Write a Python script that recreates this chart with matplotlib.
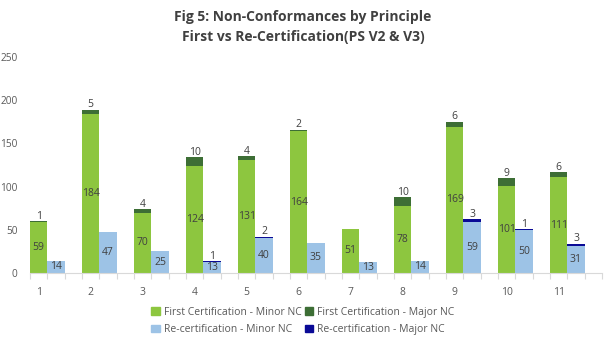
import matplotlib
matplotlib.use("Agg")
import matplotlib.pyplot as plt
from matplotlib.patches import Patch
import numpy as np

categories = ["1", "2", "3", "4", "5", "6", "7", "8", "9", "10", "11"]
first_minor = [59, 184, 70, 124, 131, 164, 51, 78, 169, 101, 111]
first_major = [1, 5, 4, 10, 4, 2, 0, 10, 6, 9, 6]
re_minor = [14, 47, 25, 13, 40, 35, 13, 14, 59, 50, 31]
re_major = [0, 0, 0, 1, 2, 0, 0, 0, 3, 1, 3]
y_ticks = [0, 50, 100, 150, 200, 250]

C_FMIN = "#8dc63f"
C_FMAJ = "#3d6e35"
C_RMIN = "#9dc3e6"
C_RMAJ = "#0a0a96"
TXT = "#404040"
AX = "#595959"

plt.rcParams['font.family'] = ['Open Sans', 'DejaVu Sans']

fig = plt.figure(figsize=(6.06, 3.44), dpi=100)
W, H = 606, 344
left, right, top, bottom = 30, 602, 57, 273
ax = fig.add_axes([left / W, 1 - bottom / H, (right - left) / W, (bottom - top) / H])

n = len(categories)
x = np.arange(n)
bw = 1 / 3
xg = x + bw / 2
xb = x + bw * 1.5

ax.bar(xg, first_minor, width=bw, color=C_FMIN, edgecolor="none")
ax.bar(xg, first_major, width=bw, bottom=first_minor, color=C_FMAJ, edgecolor="none")
ax.bar(xb, re_minor, width=bw, color=C_RMIN, edgecolor="none")
ax.bar(xb, re_major, width=bw, bottom=re_minor, color=C_RMAJ, edgecolor="none")

fs = 7.5
for i in range(n):
    ax.text(xg[i], first_minor[i] / 2, str(first_minor[i]), ha="center", va="center",
            fontsize=fs, color=TXT)
    ax.text(xb[i], re_minor[i] / 2, str(re_minor[i]), ha="center", va="center",
            fontsize=fs, color=TXT)
    if first_major[i] > 0:
        ax.annotate(str(first_major[i]), (xg[i], first_minor[i] + first_major[i]),
                    xytext=(0, 3.5), textcoords="offset points", ha="center", va="center",
                    fontsize=fs, color=TXT)
    if re_major[i] > 0:
        ax.annotate(str(re_major[i]), (xb[i], re_minor[i] + re_major[i]),
                    xytext=(0, 3.5), textcoords="offset points", ha="center", va="center",
                    fontsize=fs, color=TXT)

ax.set_ylim(0, 250)
ax.set_xlim(0, 10.73)
ax.set_yticks(y_ticks)
ax.set_yticklabels([str(v) for v in y_ticks])
ax.set_xticks(xg)
ax.set_xticklabels(categories)
ax.set_xticks(np.arange(0, n + 0.01, bw), minor=True)
ax.tick_params(axis="x", which="major", length=0, pad=10, labelsize=7.5, labelcolor=AX)
ax.tick_params(axis="x", which="minor", length=4, color="#d9d9d9", width=0.8)
ax.tick_params(axis="y", length=0, pad=9, labelsize=7.3, labelcolor=AX)
for s in ["top", "right", "left"]:
    ax.spines[s].set_visible(False)
ax.spines["bottom"].set_color("#d9d9d9")
ax.spines["bottom"].set_linewidth(0.8)

fig.text(0.5, 1 - 17 / H, "Fig 5: Non-Conformances by Principle", ha="center", va="center",
         fontsize=10, fontweight="bold", color="#404040")
fig.text(0.5, 1 - 37 / H, "First vs Re-Certification(PS V2 & V3)", ha="center", va="center",
         fontsize=10, fontweight="bold", color="#404040")

handles = [Patch(color=C_FMIN), Patch(color=C_RMIN), Patch(color=C_FMAJ), Patch(color=C_RMAJ)]
labels = ["First Certification - Minor NC", "Re-certification - Minor NC",
          "First Certification - Major NC", "Re-certification - Major NC"]
fig.legend(handles, labels, ncol=2, loc="center", bbox_to_anchor=(0.5, 1 - 321 / H),
           frameon=False, fontsize=7.5, labelcolor=AX, handlelength=0.8, handleheight=0.8,
           handletextpad=0.4, columnspacing=0.3, labelspacing=0.6)

fig.savefig("out.png", dpi=100)
